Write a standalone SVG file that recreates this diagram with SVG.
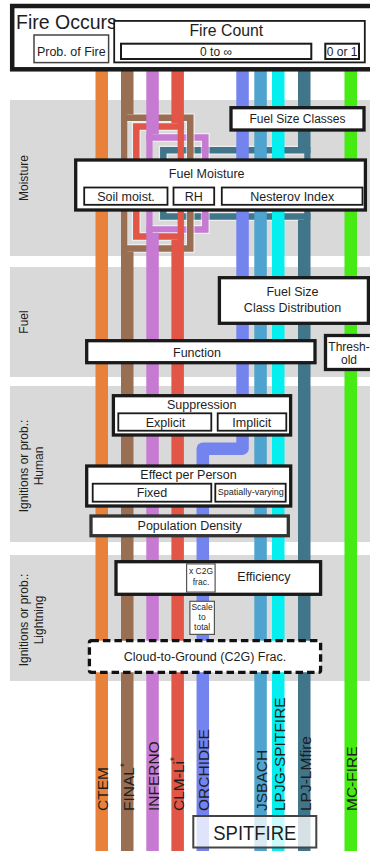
<svg xmlns="http://www.w3.org/2000/svg" width="370" height="851" viewBox="0 0 370 851">
<style>
text{font-family:"Liberation Sans",Arial,sans-serif;fill:#1e1e1e}
.band{fill:#d9d9d9}
.side{font-size:12px;text-anchor:middle}
.lbl{font-size:12.5px;text-anchor:middle}
.sm{font-size:8.5px;text-anchor:middle}
.thick{fill:#fff;stroke:#1a1a1a;stroke-width:3.3}
.thin{fill:#fff;stroke:#1a1a1a;stroke-width:1.8}
.hair{fill:#fff;stroke:#555;stroke-width:1.2}
.br{fill:none;stroke-width:6.5;stroke-linejoin:miter}
.halo{fill:none;stroke:#fff;stroke-opacity:.55;stroke-width:9}
.model{font-size:15.5px}
</style>
<rect width="370" height="851" fill="#fff"/>
<g id="bands">
<rect class="band" x="10" y="100" width="360" height="156"/>
<rect class="band" x="10" y="267" width="360" height="110"/>
<rect class="band" x="10" y="386" width="360" height="156"/>
<rect class="band" x="10" y="555" width="360" height="126"/>
<text class="side" transform="translate(28,178) rotate(-90)">Moisture</text>
<text class="side" transform="translate(28,322) rotate(-90)">Fuel</text>
<text class="side" transform="translate(27.5,466) rotate(-90)">Ignitions or prob.:</text>
<text class="side" transform="translate(43,466) rotate(-90)">Human</text>
<text class="side" transform="translate(27.5,620) rotate(-90)">Ignitions or prob.:</text>
<text class="side" transform="translate(43,620) rotate(-90)">Lightning</text>
</g>
<g id="connectors">
<path class="halo" d="M310.5,150.3 H163.3 V216.5 H310.5"/>
<path class="br" stroke="#41758A" d="M310.5,150.3 H163.3 V216.5 H310.5"/>
<path class="halo" d="M146.3,137.5 H205.3 V229.5 H146.3"/>
<path class="br" stroke="#C77AD2" d="M146.3,137.5 H205.3 V229.5 H146.3"/>
<path class="halo" d="M121,117.75 H190.25 V248.5 H121"/>
<path class="br" stroke="#9A6E52" d="M121,117.75 H190.25 V248.5 H121"/>
<path class="halo" d="M183.9,126.5 H136.3 V236.5 H183.9"/>
<path class="br" stroke="#E15646" d="M183.9,126.5 H136.3 V236.5 H183.9"/>
<rect x="95.5" y="70" width="12.5" height="781" fill="#E8823A"/>
<g fill="#9A6E52"><rect x="121" y="70" width="12.5" height="44.5"/><rect x="121" y="114" width="6.25" height="138"/><rect x="121" y="251.75" width="12.5" height="599.25"/></g>
<g fill="#C77AD2"><rect x="146.3" y="70" width="12.5" height="64.25"/><rect x="146.3" y="134" width="6.25" height="99"/><rect x="146.3" y="232.75" width="12.5" height="618.25"/></g>
<g fill="#E15646"><rect x="171.4" y="70" width="12.5" height="53.25"/><rect x="177.65" y="123" width="6.25" height="117"/><rect x="171.4" y="239.75" width="12.5" height="611.25"/></g>
<path d="M242.55,70 V448.7 H202.8 V851" fill="none" stroke="#7484EE" stroke-width="12.5" stroke-linejoin="round"/>
<rect x="254.3" y="70" width="12.5" height="781" fill="#4EA4CE"/>
<rect x="272" y="70" width="12.5" height="781" fill="#05EEF0"/>
<g fill="#41758A"><rect x="298" y="70" width="12.5" height="77.05"/><rect x="304.25" y="147" width="6.25" height="73"/><rect x="298" y="219.75" width="12.5" height="631.25"/></g>
<rect x="344.5" y="70" width="12.5" height="781" fill="#45EB12"/>
</g>
<g id="fire-occurs">
<rect x="12.2" y="6" width="370" height="63.3" fill="#fff" stroke="#1a1a1a" stroke-width="4.5"/>
<text x="16" y="29.3" font-size="19.5px">Fire Occurs</text>
</g>
<g id="prob-of-fire">
<rect x="34" y="35" width="74.6" height="27.6" fill="#fff" stroke="#444" stroke-width="1.5"/>
<text class="lbl" x="71.3" y="55.5" font-size="12px">Prob. of Fire</text>
</g>
<g id="fire-count">
<rect x="114.2" y="20.9" width="250.6" height="41.5" class="thin"/>
<text class="lbl" x="226.3" y="35.7" style="font-size:15.8px">Fire Count</text>
</g>
<g id="zero-to-inf">
<rect x="121" y="43.7" width="190.3" height="15.3" fill="#fff" stroke="#1a1a1a" stroke-width="2"/>
<text class="lbl" x="216" y="56" style="font-size:12px">0 to ∞</text>
</g>
<g id="zero-or-one">
<rect x="325.3" y="43.7" width="33.7" height="15.3" fill="#fff" stroke="#1a1a1a" stroke-width="2"/>
<text class="lbl" x="342.2" y="56" style="font-size:12px">0 or 1</text>
</g>
<g id="fuel-size-classes">
<rect class="thick" x="231" y="107.7" width="133" height="22.3"/>
<text class="lbl" x="297.5" y="123.3" style="font-size:12px">Fuel Size Classes</text>
</g>
<g id="fuel-moisture">
<rect class="thick" x="75.7" y="160" width="289.7" height="50"/>
<text class="lbl" x="206.7" y="177.7">Fuel Moisture</text>
</g>
<g id="soil-moist">
<rect class="thin" x="84.2" y="187.5" width="83.3" height="17.3"/>
<text class="lbl" x="126" y="200.5">Soil moist.</text>
</g>
<g id="rh">
<rect class="thin" x="173.5" y="187.5" width="40.7" height="17.3"/>
<text class="lbl" x="193.8" y="200.5">RH</text>
</g>
<g id="nesterov">
<rect class="thin" x="221.8" y="187.5" width="140.7" height="17.3"/>
<text class="lbl" x="292.2" y="200.5">Nesterov Index</text>
</g>
<g id="fuel-size-dist">
<rect class="thick" x="219.4" y="277.7" width="149" height="45.6"/>
<text class="lbl" x="292.5" y="295.7">Fuel Size</text>
<text class="lbl" x="292.5" y="311.7">Class Distribution</text>
</g>
<g id="function">
<rect class="thick" x="86.7" y="340.7" width="228.3" height="22"/>
<text class="lbl" x="197" y="356.7">Function</text>
</g>
<g id="threshold">
<rect class="thick" x="325.5" y="335.5" width="50" height="34"/>
<text class="lbl" x="349" y="351" style="font-size:12px">Thresh-</text>
<text class="lbl" x="349" y="364" style="font-size:12px">old</text>
</g>
<g id="suppression">
<rect class="thick" x="113.4" y="395.7" width="177.2" height="39.3"/>
<text class="lbl" x="201.7" y="409.3">Suppression</text>
</g>
<g id="explicit">
<rect class="thin" x="118.3" y="413.3" width="93" height="17.4"/>
<text class="lbl" x="165.5" y="426.5">Explicit</text>
</g>
<g id="implicit">
<rect class="thin" x="217.7" y="413.3" width="68.6" height="17.4"/>
<text class="lbl" x="251.8" y="426.5">Implicit</text>
</g>
<g id="effect-per-person">
<rect class="thick" x="86.7" y="466" width="204" height="40"/>
<text class="lbl" x="188.5" y="479">Effect per Person</text>
</g>
<g id="fixed">
<rect class="thin" x="92.7" y="483.7" width="118.6" height="18"/>
<text class="lbl" x="152" y="497">Fixed</text>
</g>
<g id="spatially-varying">
<rect class="thin" x="215.3" y="483.7" width="70.4" height="18"/>
<text class="lbl" x="250.7" y="494.5" style="font-size:9px">Spatially-varying</text>
</g>
<g id="population-density">
<rect x="91" y="516" width="197.3" height="19.7" fill="#fff" stroke="#333" stroke-width="3.3"/>
<text class="lbl" x="189.7" y="530">Population Density</text>
</g>
<g id="efficiency">
<rect class="thick" x="116" y="561.7" width="204.6" height="32.6"/>
<text class="lbl" x="264" y="581">Efficiency</text>
</g>
<g id="x-c2g-frac">
<rect class="hair" x="186.6" y="563.9" width="28.5" height="28.2"/>
<text class="sm" x="201" y="574.3">x C2G</text>
<text class="sm" x="201" y="585">frac.</text>
</g>
<g id="scale-to-total">
<rect class="hair" x="189.9" y="601.3" width="24.5" height="33.1"/>
<text class="sm" x="202.1" y="610">Scale</text>
<text class="sm" x="202.1" y="620">to</text>
<text class="sm" x="202.1" y="629.7">total</text>
</g>
<g id="c2g-frac">
<rect x="89.4" y="640.7" width="231.2" height="31.6" rx="2" fill="#fff" stroke="#111" stroke-width="3.3" stroke-dasharray="7.5 4"/>
<text class="lbl" x="205" y="660.5">Cloud-to-Ground (C2G) Frac.</text>
</g>
<g id="model-labels">
<text class="model" transform="translate(108,811) rotate(-90)">CTEM</text>
<text class="model" transform="translate(133.5,811) rotate(-90)">FINAL<tspan dy="-6" font-size="10px">*</tspan></text>
<text class="model" transform="translate(158.8,811) rotate(-90)">INFERNO</text>
<text class="model" transform="translate(183.9,811) rotate(-90)">CLM-Li<tspan dy="-6" font-size="10px">*</tspan></text>
<text class="model" transform="translate(209,811) rotate(-90)">ORCHIDEE</text>
<text class="model" transform="translate(266.8,811) rotate(-90)">JSBACH</text>
<text class="model" transform="translate(284.5,811) rotate(-90)">LPJG-SPITFIRE</text>
<text class="model" transform="translate(310.5,811) rotate(-90)">LPJ-LMfire</text>
<text class="model" transform="translate(357,811) rotate(-90)">MC-FIRE</text>
</g>
<g id="spitfire">
<rect x="193.3" y="816" width="123" height="31.5" fill="#fff" fill-opacity="0.78" stroke="#444" stroke-width="2"/>
<text x="254.8" y="840" text-anchor="middle" font-size="21px" textLength="83" lengthAdjust="spacingAndGlyphs">SPITFIRE</text>
</g>
</svg>
